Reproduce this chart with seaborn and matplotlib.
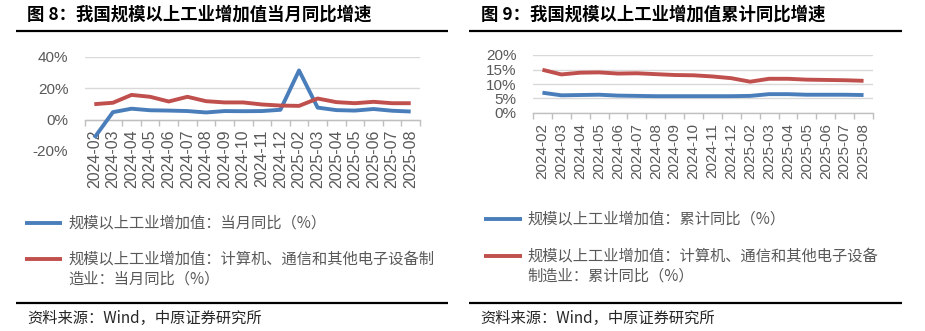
import numpy as np
import pandas as pd
import matplotlib
matplotlib.use("Agg")
import matplotlib.pyplot as plt
import seaborn as sns
from matplotlib.lines import Line2D
from matplotlib.ticker import FixedLocator, PercentFormatter

months = ["2024-02", "2024-03", "2024-04", "2024-05", "2024-06", "2024-07",
          "2024-08", "2024-09", "2024-10", "2024-11", "2024-12", "2025-02",
          "2025-03", "2025-04", "2025-05", "2025-06", "2025-07", "2025-08"]

ind_monthly = [-11.6, 4.8, 7.0, 6.0, 5.8, 5.5, 4.6, 5.5, 5.4, 5.5, 6.3, 31.4,
               7.7, 6.1, 5.8, 6.8, 5.7, 5.2]
elec_monthly = [9.9, 10.8, 15.8, 14.6, 11.6, 14.6, 11.8, 11.0, 11.0, 9.7, 9.0, 8.8,
                13.5, 11.2, 10.5, 11.4, 10.5, 10.5]
ind_cum = [7.0, 6.1, 6.2, 6.3, 6.0, 5.9, 5.8, 5.8, 5.8, 5.8, 5.8, 5.9,
           6.5, 6.5, 6.3, 6.3, 6.3, 6.2]
elec_cum = [14.9, 13.3, 13.9, 14.0, 13.6, 13.7, 13.4, 13.1, 13.0, 12.6, 12.0, 10.8,
            11.8, 11.8, 11.5, 11.4, 11.3, 11.1]

title_left = "图 8：我国规模以上工业增加值当月同比增速"
title_right = "图 9：我国规模以上工业增加值累计同比增速"
leg_left = ["规模以上工业增加值：当月同比（%）",
            "规模以上工业增加值：计算机、通信和其他电子设备制",
            "造业：当月同比（%）"]
leg_right = ["规模以上工业增加值：累计同比（%）",
             "规模以上工业增加值：计算机、通信和其他电子设备",
             "制造业：累计同比（%）"]
source = "资料来源：Wind，中原证券研究所"

sns.set_theme(style="white")
plt.rcParams["font.family"] = ["Liberation Sans", "Noto Sans CJK SC", "DejaVu Sans"]
plt.rcParams["axes.unicode_minus"] = False

W, H = 925, 331
fig = plt.figure(figsize=(W / 100, H / 100), dpi=100)
fig.patch.set_facecolor("white")

BLUE = "#4a7ebb"
RED = "#c0504d"
GRID = "#d9d9d9"
AXC = "#bfbfbf"
TXT = "#595959"
CJK = ["Noto Sans CJK SC", "DejaVu Sans"]


def fx(x):
    return x / W


def fy(y):
    return 1 - y / H


def panel(x0, x1, ytop, ybot, a, b, ylim, yticks, xsize):
    ax = fig.add_axes([fx(x0), fy(ybot), (x1 - x0) / W, (ybot - ytop) / H])
    n = len(months)
    df = pd.DataFrame({"month": months * 2, "value": a + b,
                       "series": ["a"] * n + ["b"] * n})
    sns.lineplot(data=df, x="month", y="value", hue="series",
                 palette={"a": BLUE, "b": RED}, linewidth=2.8, legend=False,
                 sort=False, ax=ax, zorder=3, solid_capstyle="butt",
                 solid_joinstyle="round")
    ax.set_xlim(-0.5, n - 0.5)
    ax.set_ylim(*ylim)
    ax.set_yticks(yticks)
    ax.yaxis.set_major_formatter(PercentFormatter(decimals=0))
    ax.set_xticks(range(n))
    ax.set_xticklabels(months)
    ax.xaxis.set_minor_locator(FixedLocator(np.arange(-0.5, n, 1.0)))
    ax.set_xlabel("")
    ax.set_ylabel("")
    for s in ["top", "right", "left"]:
        ax.spines[s].set_visible(False)
    ax.spines["bottom"].set_position(("data", 0))
    ax.spines["bottom"].set_color(AXC)
    ax.spines["bottom"].set_linewidth(1)
    ax.yaxis.grid(True, color=GRID, lw=1)
    ax.xaxis.grid(False)
    ax.tick_params(axis="y", length=0, pad=12, labelsize=11, labelcolor=TXT)
    ax.tick_params(axis="x", which="major", length=0, pad=7, labelsize=xsize,
                   labelcolor=TXT, labelrotation=90)
    ax.tick_params(axis="x", which="minor", length=4, width=1, color=AXC,
                   direction="out", bottom=True)
    for lbl in ax.get_xticklabels():
        lbl.set_bbox(dict(facecolor="white", edgecolor="none", pad=0.5))
    ax.set_axisbelow(True)
    ax.xaxis.set_zorder(2.6)
    ax.set_facecolor("none")
    return ax


panel(85, 420, 57, 151, ind_monthly, elec_monthly, (-20, 40), [-20, 0, 20, 40], 11.5)
panel(533, 873, 55, 113, ind_cum, elec_cum, (0, 20), [0, 5, 10, 15, 20], 11)


def hline(x0, x1, y, color="black", lw=1.6):
    fig.add_artist(Line2D([fx(x0), fx(x1)], [fy(y), fy(y)], color=color, lw=lw,
                          transform=fig.transFigure, solid_capstyle="butt"))


# titles and rules
fig.text(fx(27), fy(15), title_left, family=CJK, fontsize=12.5, weight="bold",
         color="black", va="center", ha="left")
fig.text(fx(481), fy(15), title_right, family=CJK, fontsize=12.5, weight="bold",
         color="black", va="center", ha="left")
hline(16, 448, 31)
hline(469, 902, 31)
hline(16, 448, 303)
hline(469, 902, 303)

# legends
LS = 11
hline(25, 62, 223, BLUE, 2.8)
hline(25, 62, 259, RED, 2.8)
fig.text(fx(68), fy(223), leg_left[0], family=CJK, fontsize=LS, color=TXT, va="center")
fig.text(fx(68), fy(259), leg_left[1], family=CJK, fontsize=LS, color=TXT, va="center")
fig.text(fx(68), fy(279), leg_left[2], family=CJK, fontsize=LS, color=TXT, va="center")

hline(484, 522, 219, BLUE, 2.8)
hline(484, 522, 256, RED, 2.8)
fig.text(fx(527), fy(219), leg_right[0], family=CJK, fontsize=LS, color=TXT, va="center")
fig.text(fx(527), fy(256), leg_right[1], family=CJK, fontsize=LS, color=TXT, va="center")
fig.text(fx(527), fy(276), leg_right[2], family=CJK, fontsize=LS, color=TXT, va="center")

# sources
fig.text(fx(27), fy(318), source, family=CJK, fontsize=11, color="#262626", va="center")
fig.text(fx(480), fy(318), source, family=CJK, fontsize=11, color="#262626", va="center")

fig.savefig("out.png", dpi=100, facecolor="white")
